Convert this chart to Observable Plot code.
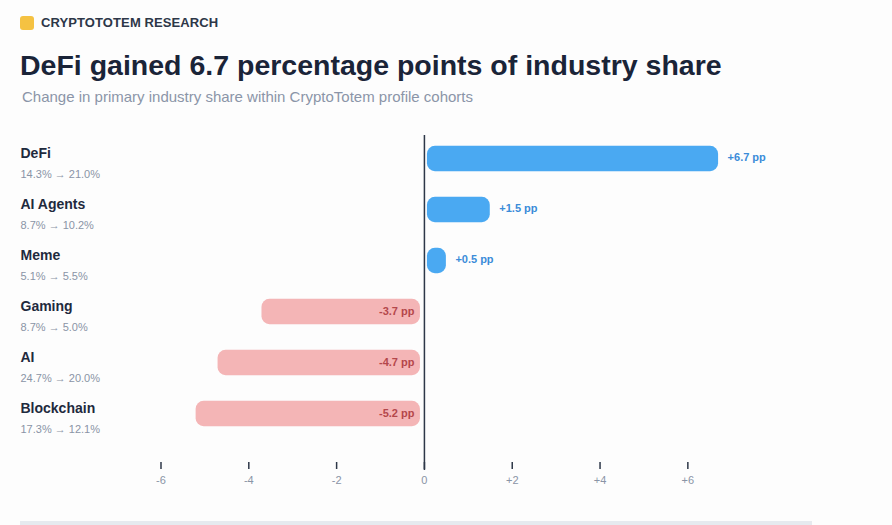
<!DOCTYPE html>
<html>
<head>
<meta charset="utf-8">
<script src="https://cdn.jsdelivr.net/npm/d3@7"></script>
<script src="https://cdn.jsdelivr.net/npm/@observablehq/plot@0.6"></script>
<style>
  html, body { margin: 0; padding: 0; background: #fdfdfd; }
  body { width: 892px; height: 525px; overflow: hidden; position: relative; font-family: "Liberation Sans", Arial, sans-serif; }
  .brand { position: absolute; left: 20px; top: 15px; display: flex; align-items: center; }
  .brand .sq { width: 14px; height: 14px; background: #f5c242; border-radius: 3px; margin-right: 7px; }
  .brand .t { font-size: 13px; font-weight: bold; color: #2d3748; letter-spacing: 0.1px; }
  h1 { position: absolute; left: 20px; top: 49px; margin: 0; font-size: 28.5px; font-weight: bold; color: #1a2438; white-space: nowrap; }
  .sub { position: absolute; left: 22px; top: 88px; font-size: 15px; color: #8b95a8; white-space: nowrap; }
  #chart { position: absolute; left: 0; top: 120px; }
  .foot { position: absolute; left: 20px; top: 521px; width: 792px; height: 4px; background: #e6eaef; }
</style>
</head>
<body>
<div class="brand"><div class="sq"></div><div class="t">CRYPTOTOTEM RESEARCH</div></div>
<h1>DeFi gained 6.7 percentage points of industry share</h1>
<div class="sub">Change in primary industry share within CryptoTotem profile cohorts</div>
<div id="chart"></div>
<div class="foot"></div>
<script>
const categories = ["DeFi", "AI Agents", "Meme", "Gaming", "AI", "Blockchain"];
const before = [14.3, 8.7, 5.1, 8.7, 24.7, 17.3];
const after = [21.0, 10.2, 5.5, 5.0, 20.0, 12.1];
const change = [6.7, 1.5, 0.5, -3.7, -4.7, -5.2];
const xTicks = [-6, -4, -2, 0, 2, 4, 6];

const data = categories.map((c, i) => ({
  cat: c, before: before[i], after: after[i], change: change[i],
  sub: before[i].toFixed(1) + "% \u2192 " + after[i].toFixed(1) + "%",
  label: (change[i] > 0 ? "+" : "") + change[i].toFixed(1) + " pp"
}));
const pos = data.filter(d => d.change > 0);
const neg = data.filter(d => d.change < 0);
const fmt = d => d > 0 ? "+" + d : String(d);

const chart = Plot.plot({
  width: 892,
  height: 390,
  marginLeft: 20,
  marginRight: 22,
  marginTop: 15,
  marginBottom: 48,
  style: { fontFamily: "Liberation Sans, Arial, sans-serif", background: "transparent", overflow: "visible" },
  x: { domain: [-9.2, 10.16], axis: null },
  y: { domain: categories, range: [11, 321.5], padding: 0, axis: null },
  marks: [
    Plot.barX(pos, { x1: 0, x2: "change", y: "cat", fill: "#4aa9f2", insetLeft: 3, insetTop: 12.8, insetBottom: 12.8, rx: 8 }),
    Plot.barX(neg, { x1: "change", x2: 0, y: "cat", fill: "#f4b5b6", insetRight: 4, insetTop: 12.8, insetBottom: 12.8, rx: 8 }),
    Plot.ruleX([0], { stroke: "#2d3748", strokeWidth: 1.5, insetBottom: -8 }),
    Plot.axisX({ ticks: xTicks, tickFormat: fmt, label: null, tickSize: 7, tickPadding: 7, stroke: "#2d3748", strokeWidth: 1.5, color: "#8a94a6", fontSize: 11, anchor: "bottom" }),
    Plot.text(pos, { x: "change", y: "cat", text: "label", textAnchor: "start", dx: 9, dy: -2, fill: "#3b8cd9", fontWeight: "bold", fontSize: 11 }),
    Plot.text(neg, { x: 0, y: "cat", text: "label", textAnchor: "end", dx: -10, dy: -1, fill: "#b4474b", fontWeight: "bold", fontSize: 11 }),
    Plot.text(data, { y: "cat", frameAnchor: "left", text: "cat", textAnchor: "start", dy: -5, fill: "#1f2a3d", fontWeight: "bold", fontSize: 14 }),
    Plot.text(data, { y: "cat", frameAnchor: "left", text: "sub", textAnchor: "start", dy: 15, fill: "#8a94a6", fontSize: 11 })
  ]
});
document.getElementById("chart").appendChild(chart);
</script>
</body>
</html>
